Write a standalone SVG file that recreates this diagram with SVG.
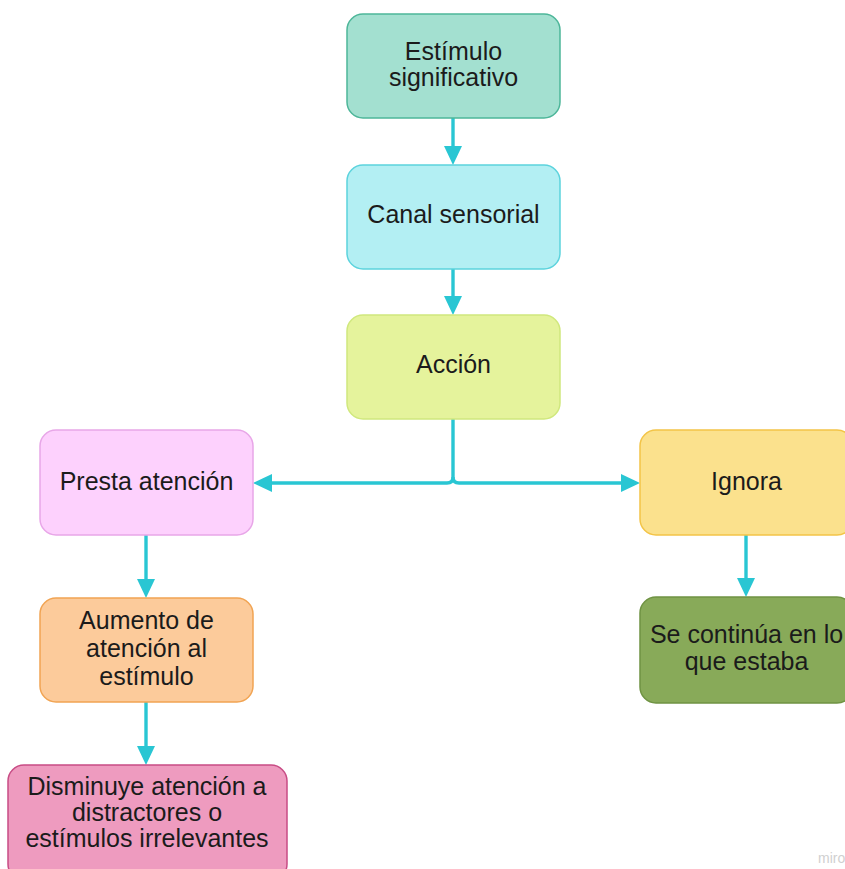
<svg xmlns="http://www.w3.org/2000/svg" width="845" height="869" viewBox="0 0 845 869">
<defs>
<marker id="arr" markerUnits="userSpaceOnUse" markerWidth="20" markerHeight="19" refX="9" refY="9" orient="auto">
<path d="M0,0 L19,9 L0,18 z" fill="#29c6d3"/>
</marker>
<style>
.box{stroke-width:1.5}
.t{font-family:"Liberation Sans",Arial,Helvetica,sans-serif;font-size:25px;fill:#1b1b1b;text-anchor:middle}
.c{fill:none;stroke:#29c6d3;stroke-width:3.4;marker-end:url(#arr)}
</style>
</defs>
<rect width="845" height="869" fill="#ffffff"/>
<g id="connectors">
<path class="c" d="M453,118 V155"/>
<path class="c" d="M453,269 V305"/>
<path class="c" d="M453,419 V477 Q453,483 447,483 H263"/>
<path class="c" d="M453,477 Q453,483 459,483 H630"/>
<path class="c" d="M146,535 V588"/>
<path class="c" d="M146,702 V755"/>
<path class="c" d="M746,535 V587"/>
</g>
<g id="n-estimulo">
<rect class="box" x="347" y="14" width="213" height="104" rx="16" fill="#a3e0d0" stroke="#4db699"/>
<text class="t" x="453.5" y="60">Estímulo</text>
<text class="t" x="453.5" y="86">significativo</text>
</g>
<g id="n-canal">
<rect class="box" x="347" y="165" width="213" height="104" rx="16" fill="#b3eff3" stroke="#5cd3dd"/>
<text class="t" x="453.5" y="223">Canal sensorial</text>
</g>
<g id="n-accion">
<rect class="box" x="347" y="315" width="213" height="104" rx="16" fill="#e5f39c" stroke="#d0e87d"/>
<text class="t" x="453.5" y="373">Acción</text>
</g>
<g id="n-presta">
<rect class="box" x="40" y="430" width="213" height="105" rx="16" fill="#fdd1fd" stroke="#e8a6e8"/>
<text class="t" x="146.5" y="490">Presta atención</text>
</g>
<g id="n-ignora">
<rect class="box" x="640" y="430" width="213" height="105" rx="16" fill="#fbe18d" stroke="#f3c447"/>
<text class="t" x="746.5" y="490">Ignora</text>
</g>
<g id="n-aumento">
<rect class="box" x="40" y="598" width="213" height="104" rx="16" fill="#fccb9b" stroke="#f1a453"/>
<text class="t" x="146.5" y="629">Aumento de</text>
<text class="t" x="146.5" y="657">atención al</text>
<text class="t" x="146.5" y="685">estímulo</text>
</g>
<g id="n-continua">
<rect class="box" x="640" y="597" width="213" height="106" rx="16" fill="#88aa59" stroke="#6f9343"/>
<text class="t" x="746.5" y="643">Se continúa en lo</text>
<text class="t" x="746.5" y="670">que estaba</text>
</g>
<g id="n-disminuye">
<rect class="box" x="8" y="765" width="279" height="115" rx="16" fill="#ee9bbf" stroke="#c84c85"/>
<text class="t" x="147" y="795">Disminuye atención a</text>
<text class="t" x="147" y="821">distractores o</text>
<text class="t" x="147" y="847">estímulos irrelevantes</text>
</g>
<text x="818" y="863" font-family="'Liberation Sans',Arial,sans-serif" font-size="14" fill="#d0d0d0">miro</text>
</svg>
